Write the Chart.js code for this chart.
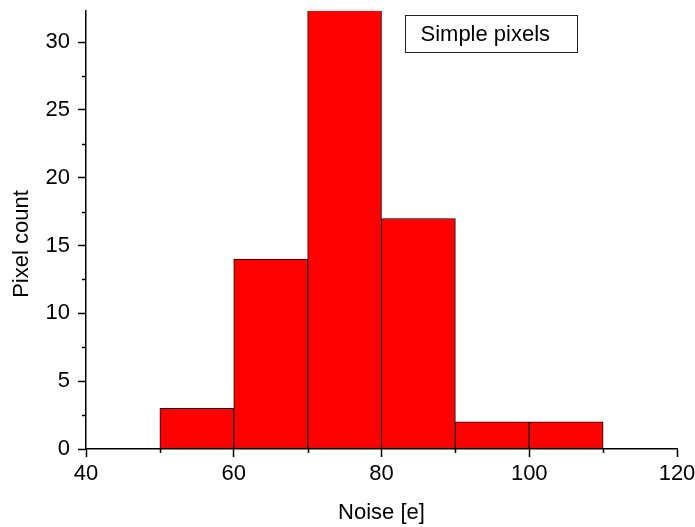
<!DOCTYPE html>
<html>
<head>
  <meta charset="utf-8" />
  <title>Simple pixels noise</title>
  <script src="https://cdn.jsdelivr.net/npm/chart.js@4.4.1/dist/chart.umd.min.js"></script>
  <style>
    html, body { margin: 0; padding: 0; background: #ffffff; }
    #wrap { width: 695px; height: 527px; }
  </style>
</head>
<body>
  <div id="wrap"><canvas id="hist"></canvas></div>
  <script>
    // histogram bins (centres, width 10 e) and counts
    const binCenters = [55, 65, 75, 85, 95, 105];
    const counts = [3, 14, 33, 17, 2, 2];
    const seriesLabel = 'Simple pixels';
    const xTitle = 'Noise [e]';
    const yTitle = 'Pixel count';

    const FONT = "'Liberation Sans', Arial, sans-serif";

    // short minor ticks, y title (sits a bit below centre) and the framed legend
    const extras = {
      id: 'extras',
      afterDraw(chart) {
        const ctx = chart.ctx;
        const xs = chart.scales.x, ys = chart.scales.y;
        ctx.save();
        ctx.strokeStyle = '#000';
        ctx.lineWidth = 1.5;
        ys.ticks.forEach(t => {
          if (t.value % 5 !== 0) {
            const py = Math.round(ys.getPixelForValue(t.value)) + 0.5;
            ctx.beginPath();
            ctx.moveTo(xs.left, py);
            ctx.lineTo(xs.left - 4, py);
            ctx.stroke();
          }
        });
        xs.ticks.forEach(t => {
          if (t.value % 20 !== 0) {
            const px = Math.round(xs.getPixelForValue(t.value)) + 0.5;
            ctx.beginPath();
            ctx.moveTo(px, ys.bottom);
            ctx.lineTo(px, ys.bottom + 4);
            ctx.stroke();
          }
        });

        const a = chart.chartArea;
        ctx.fillStyle = '#000';
        ctx.font = '22px ' + FONT;
        ctx.textBaseline = 'middle';

        // y title
        ctx.save();
        ctx.translate(22, (a.top + a.bottom) / 2 + 14);
        ctx.rotate(-Math.PI / 2);
        ctx.textAlign = 'center';
        ctx.fillText(yTitle, 0, 0);
        ctx.restore();

        // legend box
        const bx = a.left + 319.5, by = 15.5, bw = 172, bh = 37;
        ctx.fillStyle = '#fff';
        ctx.fillRect(bx, by, bw, bh);
        ctx.lineWidth = 1;
        ctx.strokeStyle = '#222';
        ctx.strokeRect(bx, by, bw, bh);
        ctx.fillStyle = '#000';
        ctx.textAlign = 'left';
        ctx.fillText(seriesLabel, bx + 15, by + bh / 2 + 1);
        ctx.restore();
      }
    };

    new Chart(document.getElementById('hist'), {
      type: 'bar',
      data: {
        datasets: [{
          label: seriesLabel,
          data: binCenters.map((c, i) => ({ x: c, y: counts[i] })),
          backgroundColor: '#ff0000',
          borderColor: '#1a0000',
          borderWidth: 1,
          borderSkipped: false,
          barPercentage: 1,
          categoryPercentage: 1,
          clip: 0
        }]
      },
      options: {
        responsive: true,
        maintainAspectRatio: false,
        animation: false,
        layout: { padding: { top: 11, right: 18, left: 0, bottom: 0 } },
        plugins: {
          legend: { display: false },
          tooltip: { enabled: false }
        },
        scales: {
          x: {
            type: 'linear',
            offset: false,
            min: 40,
            max: 120,
            grid: {
              offset: false,
              drawOnChartArea: false,
              tickLength: 8,
              tickWidth: 1.5,
              tickColor: c => (c.tick && c.tick.value % 20 === 0) ? '#000' : 'rgba(0,0,0,0)'
            },
            border: { color: '#000', width: 1.5 },
            ticks: {
              stepSize: 10,
              padding: 4,
              maxRotation: 0,
              autoSkip: false,
              color: '#000',
              font: { family: FONT, size: 22 },
              callback: v => (v % 20 === 0 ? v : '')
            },
            title: {
              display: true,
              text: xTitle,
              color: '#000',
              font: { family: FONT, size: 22 },
              padding: { top: 0, bottom: 1 }
            },
            afterFit: s => { s.height = 78; s.paddingLeft = 0; s.paddingRight = 0; }
          },
          y: {
            min: 0,
            max: 32.3,
            grid: {
              drawOnChartArea: false,
              tickLength: 8,
              tickWidth: 1.5,
              tickColor: c => (c.tick && c.tick.value % 5 === 0) ? '#000' : 'rgba(0,0,0,0)'
            },
            border: { color: '#000', width: 1.5 },
            afterBuildTicks: s => { s.ticks = s.ticks.filter(t => t.value % 2.5 === 0); },
            ticks: {
              stepSize: 2.5,
              padding: 8,
              autoSkip: false,
              color: '#000',
              font: { family: FONT, size: 22 },
              callback: v => (v % 5 === 0 ? v : '')
            },
            title: { display: false, text: yTitle },
            afterFit: s => { s.width = 86; s.paddingTop = 0; s.paddingBottom = 0; }
          }
        }
      },
      plugins: [extras]
    });
  </script>
</body>
</html>
